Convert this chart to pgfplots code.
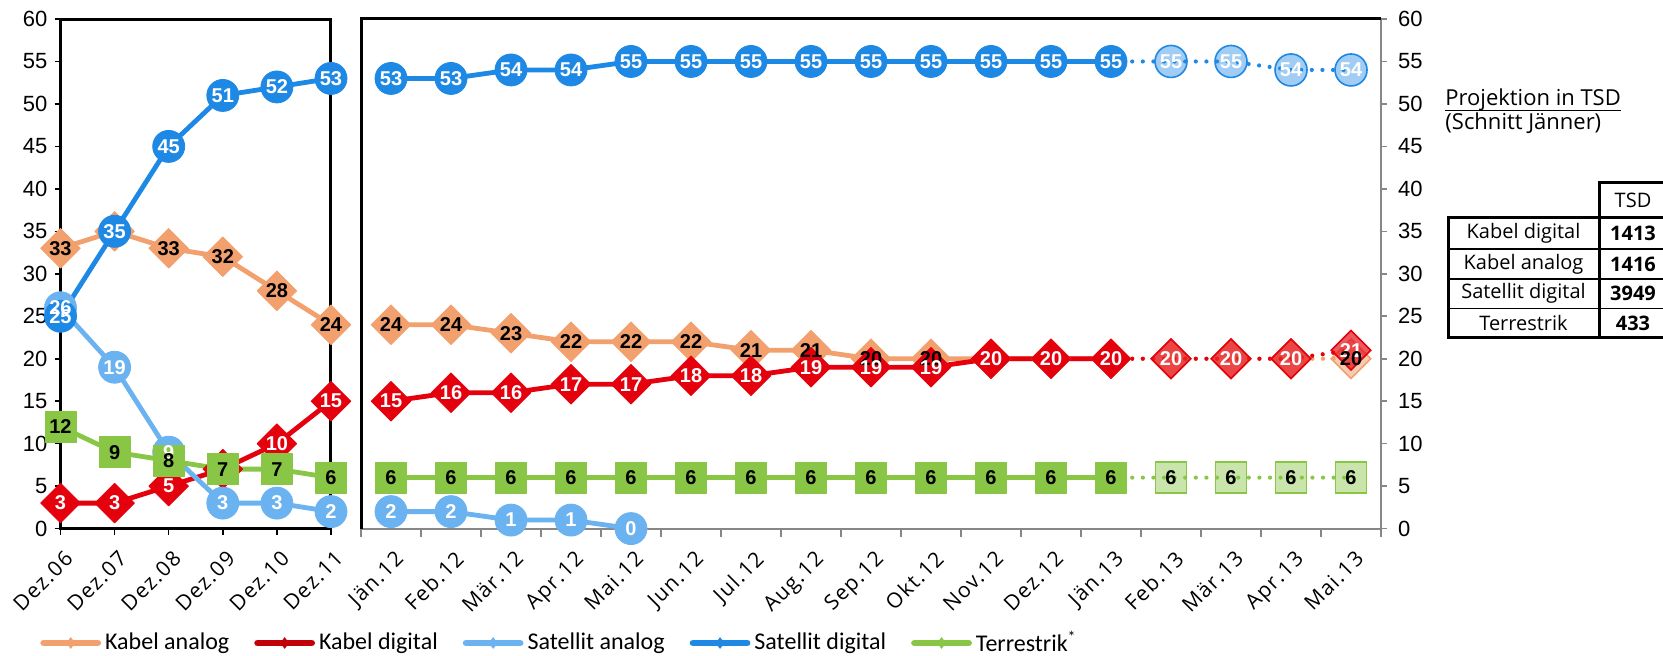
\documentclass[border=0pt]{standalone}
\usepackage{fontspec}
\setmainfont{Liberation Sans}
\newfontfamily\opensans{Open Sans}
\newfontfamily\opensansw[LetterSpace=7]{Open Sans}
\newfontfamily\carlito{Carlito}
\usepackage{pgfplots}
\pgfplotsset{compat=1.18}

\definecolor{kabana}{RGB}{241,160,110}
\definecolor{kabdig}{RGB}{228,0,12}
\definecolor{satana}{RGB}{106,178,240}
\definecolor{satdig}{RGB}{30,136,229}
\definecolor{terr}{RGB}{137,198,70}
\definecolor{axgray}{RGB}{135,135,135}

\pgfplotsset{
  /pgf/number format/assume math mode=true,
  sline/.style={line width=2.4pt, line join=round},
  dline/.style={line width=2.1pt, line cap=round, dash pattern=on 0pt off 5.3pt, mark=none, forget plot},
  s kabana/.style={sline, color=kabana, mark=square*, mark size=7pt, forget plot,
     mark options={solid, rotate=45, line width=0.4pt, fill=kabana, draw=kabana}},
  s kabdig/.style={sline, color=kabdig, mark=square*, mark size=7pt, forget plot,
     mark options={solid, rotate=45, line width=0.4pt, fill=kabdig, draw=kabdig}},
  s satana/.style={sline, color=satana, mark=*, mark size=8pt, forget plot,
     mark options={solid, line width=0.4pt, fill=satana, draw=satana}},
  s satdig/.style={sline, color=satdig, mark=*, mark size=8pt, forget plot,
     mark options={solid, line width=0.4pt, fill=satdig, draw=satdig}},
  s terr/.style={sline, color=terr, mark=square*, mark size=7.8pt, forget plot,
     mark options={solid, line width=0.4pt, fill=terr, draw=terr}},
  p kabana/.style={only marks, forget plot, mark=square*, mark size=7pt,
     mark options={solid, rotate=45, line width=0.8pt, fill=kabana, fill opacity=0.55, draw=kabana}},
  p kabdig/.style={only marks, forget plot, mark=square*, mark size=7pt,
     mark options={solid, rotate=45, line width=0.8pt, fill=kabdig, fill opacity=0.65, draw=kabdig}},
  p satdig/.style={only marks, forget plot, mark=*, mark size=8pt,
     mark options={solid, line width=0.8pt, fill=satdig, fill opacity=0.42, draw=satdig}},
  p terr/.style={only marks, forget plot, mark=square*, mark size=7.8pt,
     mark options={solid, line width=0.8pt, fill=terr, fill opacity=0.45, draw=terr}},
  lab/.style={draw=none, mark=none, forget plot, nodes near coords,
     every node near coord/.append style={anchor=center, inner sep=0pt,
       font=\bfseries\fontsize{10}{11}\selectfont, text=#1}},
  xlab/.style={xticklabel style={font=\opensansw\fontsize{10.5}{12}\selectfont, rotate=45, anchor=north east, inner sep=1pt, xshift=-3pt, yshift=-5pt}},
}

\begin{document}
\begin{tikzpicture}
\useasboundingbox (0pt,0pt) rectangle (831.5pt,328pt);

% ---------------- left panel ----------------
\begin{axis}[
  scale only axis, width=135.25pt, height=254.8pt,
  at={(30.25pt,63.7pt)}, anchor=south west,
  xmin=0, xmax=5, ymin=0, ymax=60, clip=false,
  axis line style={line width=1.5pt, black},
  tick pos=left, tick align=outside, major tick length=3pt,
  tick style={black, line width=0.8pt},
  ytick={0,5,...,60}, xtick={0,...,5},
  xticklabels={Dez.06,Dez.07,Dez.08,Dez.09,Dez.10,Dez.11},
  yticklabel style={font=\fontsize{11}{12}\selectfont},
  xlab,
  legend columns=5,
  legend style={at={(axis description cs:-0.076,-0.2245)}, anchor=west, draw=none, fill=none,
     inner sep=0pt, font=\carlito\fontsize{12}{14}\selectfont,
     /tikz/every even column/.append style={column sep=10.5pt}},
  legend cell align=left,
  legend image code/.code={\draw[#1, line width=3.4pt, line cap=round] plot coordinates {(0pt,0pt) (13.5pt,0pt) (27pt,0pt)};},
]
\addplot[s kabana] coordinates {(0,33) (1,35) (2,33) (3,32) (4,28) (5,24)};
\addplot[s kabdig] coordinates {(0,3) (1,3) (2,5) (3,7) (4,10) (5,15)};
\addplot[s satana] coordinates {(0,26) (1,19) (2,9) (3,3) (4,3) (5,2)};
\addplot[s satdig] coordinates {(0,25) (1,35) (2,45) (3,51) (4,52) (5,53)};
\addplot[s terr] coordinates {(0,12) (1,9) (2,8) (3,7) (4,7) (5,6)};
% labels
\addplot[lab=black] coordinates {(0,33) (2,33) (3,32) (4,28) (5,24)};
\addplot[lab=white] coordinates {(0,3) (1,3) (2,5) (4,10) (5,15)};
\addplot[lab=white] coordinates {(0,26) (1,19) (2,9) (3,3) (4,3) (5,2)};
\addplot[lab=white] coordinates {(0,25) (1,35) (2,45) (3,51) (4,52) (5,53)};
\addplot[lab=black] coordinates {(0,12) (1,9) (2,8) (3,7) (4,7) (5,6)};
% legend
\addlegendimage{color=kabana, mark=diamond*, mark size=2.6pt, mark repeat=2, mark phase=2, mark options={line width=0.4pt}}
\addlegendentry{Kabel analog}
\addlegendimage{color=kabdig!85!black, mark=diamond*, mark size=2.6pt, mark repeat=2, mark phase=2, mark options={line width=0.4pt}}
\addlegendentry{Kabel digital}
\addlegendimage{color=satana, mark=diamond*, mark size=2.6pt, mark repeat=2, mark phase=2, mark options={line width=0.4pt}}
\addlegendentry{Satellit analog}
\addlegendimage{color=satdig, mark=diamond*, mark size=2.6pt, mark repeat=2, mark phase=2, mark options={line width=0.4pt}}
\addlegendentry{Satellit digital}
\addlegendimage{color=terr, mark=diamond*, mark size=2.6pt, mark repeat=2, mark phase=2, mark options={line width=0.4pt}}
\addlegendentry{Terrestrik\textsuperscript{*}}
\end{axis}

% ---------------- right panel ----------------
\begin{axis}[
  scale only axis, width=510pt, height=254.8pt,
  at={(180.5pt,63.7pt)}, anchor=south west,
  xmin=-0.5, xmax=16.5, ymin=0, ymax=60, clip=false,
  axis x line*=bottom, axis y line*=right,
  axis line style={-, axgray, line width=1pt},
  tick align=outside, major tick length=3pt, minor tick length=4pt,
  tick style={axgray, line width=0.8pt},
  ytick={0,5,...,60},
  xtick={0,...,16},
  xticklabels={Jän.12,Feb.12,Mär.12,Apr.12,Mai.12,Jun.12,Jul.12,Aug.12,Sep.12,Okt.12,Nov.12,Dez.12,Jän.13,Feb.13,Mär.13,Apr.13,Mai.13},
  major x tick style={draw=none},
  minor xtick={-0.5,0.5,...,16.5},
  minor x tick style={axgray, line width=0.8pt},
  yticklabel style={font=\fontsize{11}{12}\selectfont, xshift=2pt},
  xlab,
]
\draw[line width=1.5pt, black] (rel axis cs:0,0) -- (rel axis cs:0,1) -- (rel axis cs:1,1);
% Kabel analog
\addplot[dline, color=kabana] coordinates {(12,20) (13,20) (14,20) (15,20) (16,20)};
\addplot[p kabana] coordinates {(13,20) (14,20) (15,20) (16,20)};
\addplot[s kabana] coordinates {(0,24) (1,24) (2,23) (3,22) (4,22) (5,22) (6,21) (7,21) (8,20) (9,20) (10,20) (11,20) (12,20)};
% Kabel digital
\addplot[dline, color=kabdig] coordinates {(12,20) (13,20) (14,20) (15,20) (16,21)};
\addplot[p kabdig] coordinates {(13,20) (14,20) (15,20) (16,21)};
\addplot[s kabdig] coordinates {(0,15) (1,16) (2,16) (3,17) (4,17) (5,18) (6,18) (7,19) (8,19) (9,19) (10,20) (11,20) (12,20)};
% Satellit analog
\addplot[s satana] coordinates {(0,2) (1,2) (2,1) (3,1) (4,0)};
% Satellit digital
\addplot[dline, color=satdig] coordinates {(12,55) (13,55) (14,55) (15,54) (16,54)};
\addplot[p satdig] coordinates {(13,55) (14,55) (15,54) (16,54)};
\addplot[s satdig] coordinates {(0,53) (1,53) (2,54) (3,54) (4,55) (5,55) (6,55) (7,55) (8,55) (9,55) (10,55) (11,55) (12,55)};
% Terrestrik
\addplot[dline, color=terr] coordinates {(12,6) (13,6) (14,6) (15,6) (16,6)};
\addplot[p terr] coordinates {(13,6) (14,6) (15,6) (16,6)};
\addplot[s terr] coordinates {(0,6) (1,6) (2,6) (3,6) (4,6) (5,6) (6,6) (7,6) (8,6) (9,6) (10,6) (11,6) (12,6)};
% labels
\addplot[lab=black] coordinates {(0,24) (1,24) (2,23) (3,22) (4,22) (5,22) (6,21) (7,21) (8,20) (9,20)};
\addplot[lab=white] coordinates {(0,15) (1,16) (2,16) (3,17) (4,17) (5,18) (6,18) (7,19) (8,19) (9,19) (10,20) (11,20) (12,20) (13,20) (14,20) (15,20) (16,21)};
\addplot[lab=black] coordinates {(16,20)};
\addplot[lab=white] coordinates {(0,2) (1,2) (2,1) (3,1) (4,0)};
\addplot[lab=white] coordinates {(0,53) (1,53) (2,54) (3,54) (4,55) (5,55) (6,55) (7,55) (8,55) (9,55) (10,55) (11,55) (12,55) (13,55) (14,55) (15,54) (16,54)};
\addplot[lab=black] coordinates {(0,6) (1,6) (2,6) (3,6) (4,6) (5,6) (6,6) (7,6) (8,6) (9,6) (10,6) (11,6) (12,6) (13,6) (14,6) (15,6) (16,6)};
\end{axis}

% ---------------- projection table ----------------
\node[anchor=base west, font=\opensans\fontsize{11}{13}\selectfont, inner sep=0pt] (ttl) at (722.5pt,275pt) {Projektion in TSD};
\draw[line width=0.6pt] ([yshift=-2.2pt]ttl.base west) -- ([yshift=-2.2pt]ttl.base east);
\node[anchor=base west, font=\opensans\fontsize{11}{13}\selectfont, inner sep=0pt] at (722.5pt,263pt) {(Schnitt Jänner)};
\begin{scope}[font=\opensans\fontsize{10}{12}\selectfont]
\draw[line width=0.6pt] (724pt,203.5pt) -- (835pt,203.5pt);
\draw[line width=0.6pt] (724pt,188.5pt) -- (835pt,188.5pt);
\draw[line width=0.6pt] (724pt,173.75pt) -- (835pt,173.75pt);
\draw[line width=1.5pt] (835pt,236.5pt) -- (799.5pt,236.5pt) -- (799.5pt,159pt);
\draw[line width=1.5pt] (835pt,219pt) -- (724pt,219pt) -- (724pt,159pt) -- (835pt,159pt);
\node at (816.5pt,227.75pt) {TSD};
\node at (761.75pt,211.25pt) {Kabel digital};
\node at (761.75pt,196pt) {Kabel analog};
\node at (761.75pt,181.1pt) {Satellit digital};
\node at (761.75pt,166.4pt) {Terrestrik};
\node[font=\opensans\bfseries\fontsize{10}{12}\selectfont] at (816.5pt,211.25pt) {1413};
\node[font=\opensans\bfseries\fontsize{10}{12}\selectfont] at (816.5pt,196pt) {1416};
\node[font=\opensans\bfseries\fontsize{10}{12}\selectfont] at (816.5pt,181.1pt) {3949};
\node[font=\opensans\bfseries\fontsize{10}{12}\selectfont] at (816.5pt,166.4pt) {433};
\end{scope}
\end{tikzpicture}
\end{document}
